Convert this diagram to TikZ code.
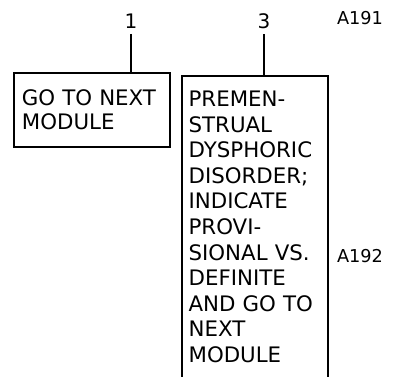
\documentclass[tikz,border=0pt]{standalone}
\usepackage{fontspec}
\setmainfont{DejaVu Sans}
\usetikzlibrary{positioning}

\begin{document}
\begin{tikzpicture}[x=0.75pt, y=-0.75pt,
        modbox/.style={draw, line width=1.4pt, align=left, anchor=north west,
            inner xsep=6pt, font=\fontsize{16}{19.2}\selectfont},
        colnum/.style={font=\fontsize{15}{18}\selectfont},
        itemref/.style={font=\fontsize{13.3}{16}\selectfont},
        link/.style={line width=1.4pt}
    ]
        \useasboundingbox (0,0) rectangle (404,377);

        \node[modbox, minimum width=117pt, minimum height=55.5pt, text width=105pt,
            font=\fontsize{16}{18.3}\selectfont]
            (gonext) at (13,72) {GO TO NEXT\\MODULE};
        \node[modbox, minimum width=109.5pt, minimum height=226.5pt, text width=99.5pt, inner xsep=5pt]
            (pmdd) at (181,75) {PREMEN-\\STRUAL\\DYSPHORIC\\DISORDER;\\INDICATE\\PROVI-\\SIONAL VS.\\DEFINITE\\AND GO TO\\NEXT\\MODULE};

        \node[colnum, inner sep=1pt] (num1) at (131,21) {1};
        \node[colnum, inner sep=1pt] (num3) at (264,21) {3};
        \draw[link] ([yshift=-3pt]num1.south) -- (num1.south |- gonext.north);
        \draw[link] ([yshift=-3pt]num3.south) -- (num3.south |- pmdd.north);

        \node[itemref] (a191) at (360,18) {A191};
        \node[itemref] (a192) at (360,256) {A192};
    \end{tikzpicture}
\end{document}
